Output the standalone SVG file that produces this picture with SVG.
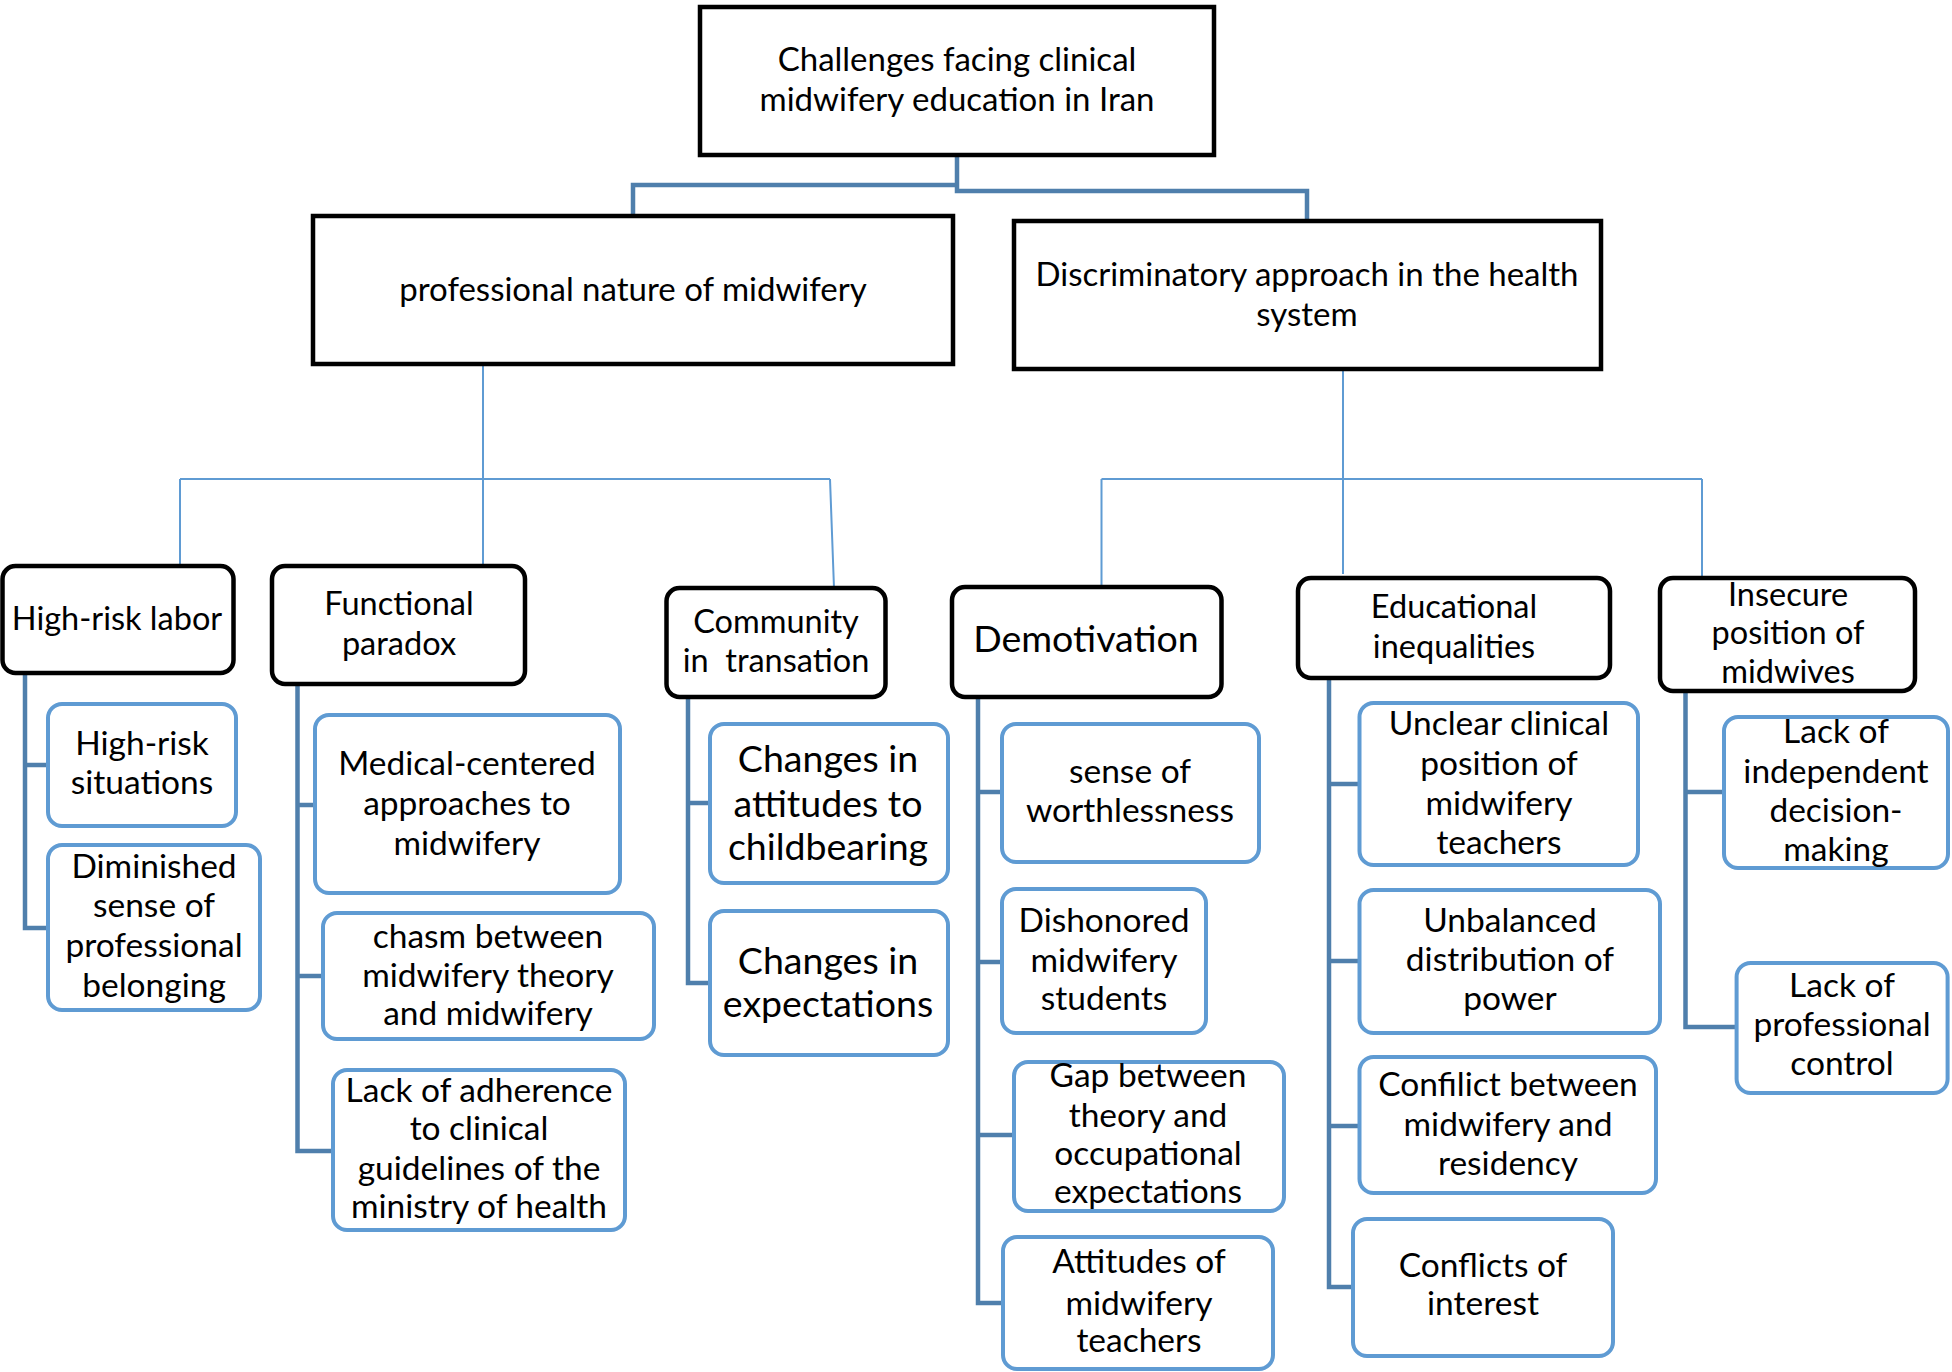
<svg xmlns="http://www.w3.org/2000/svg" width="1952" height="1372" viewBox="0 0 1952 1372">
<style>
text{font-family:Lato,"Noto Sans",sans-serif;fill:#000;text-anchor:middle;dominant-baseline:central}
.main{fill:#fff;stroke:#000;stroke-width:4.5}
.cat{fill:#fff;stroke:#000;stroke-width:4.5}
.sub{fill:#fff;stroke:#5f9bd3;stroke-width:4}
.thick{fill:none;stroke:#4f7fac;stroke-width:4.5}
.thin{fill:none;stroke:#5f9bd3;stroke-width:2}
.f30{font-size:33px}.c3{font-size:32.5px}.f33{font-size:33.5px}.f35{font-size:33.5px}.f39{font-size:37.5px}
</style>
<g id="connectors">
<path class="thick" d="M957,155V185H633V216M957,185V191H1307V221"/>
<path class="thin" d="M483,364V566M180,479H830M180,479V566M830,479L834,588M1343,369V574M1101.5,479H1702M1101.5,479V587M1702,479V578"/>
<path class="thick" d="M25,673V928H48M25,765H48"/>
<path class="thick" d="M297.5,684V1151H333M297.5,805H315M297.5,976H323"/>
<path class="thick" d="M688,697V983H710M688,803H710"/>
<path class="thick" d="M978,697V1303H1003M978,792H1002M978,962H1002M978,1135H1014"/>
<path class="thick" d="M1329,678V1287H1353M1329,784H1359.5M1329,961H1359.5M1329,1126H1359.5"/>
<path class="thick" d="M1685.5,691V1027H1736.6M1685.5,792H1724"/>
</g>
<g id="n0"><rect class="main" x="700" y="7" width="514" height="148"/><text class="f30" x="957" y="58">Challenges facing clinical</text><text class="f30" x="957" y="98">midwifery education in Iran</text></g>
<g id="n1"><rect class="main" x="313" y="216" width="640" height="148"/><text class="f30" x="633" y="288">professional nature of midwifery</text></g>
<g id="n2"><rect class="main" x="1014" y="221" width="587" height="148"/><text class="f30" x="1307" y="273">Discriminatory approach in the health</text><text class="f30" x="1307" y="313">system</text></g>
<g id="n3"><rect class="cat" x="2.5" y="566" width="231" height="107" rx="13"/><text class="c3" x="117" y="617">High-risk labor</text></g>
<g id="n4"><rect class="cat" x="272" y="566" width="253" height="118" rx="13"/><text class="c3" x="399" y="602">Functional</text><text class="c3" x="399" y="642">paradox</text></g>
<g id="n5"><rect class="cat" x="666.5" y="588" width="219" height="109" rx="13"/><text class="c3" x="776" y="620">Community</text><text class="c3" x="776" y="659" xml:space="preserve">in  transation</text></g>
<g id="n6"><rect class="cat" x="952" y="587" width="269.5" height="110" rx="13"/><text class="f39" x="1086" y="637">Demotivation</text></g>
<g id="n7"><rect class="cat" x="1298" y="578" width="312" height="100" rx="13"/><text class="c3" x="1454" y="605">Educational</text><text class="c3" x="1454" y="645">inequalities</text></g>
<g id="n8"><rect class="cat" x="1660" y="578" width="255" height="113" rx="13"/><text class="c3" x="1788" y="593">Insecure</text><text class="c3" x="1788" y="631">position of</text><text class="c3" x="1788" y="670">midwives</text></g>
<g id="n9"><rect class="sub" x="48" y="704" width="188" height="122" rx="14"/><text class="f33" x="142" y="742">High-risk</text><text class="f33" x="142" y="781">situations</text></g>
<g id="n10"><rect class="sub" x="48" y="845" width="212" height="165" rx="14"/><text class="f33" x="154" y="865">Diminished</text><text class="f33" x="154" y="904">sense of</text><text class="f33" x="154" y="944">professional</text><text class="f33" x="154" y="984">belonging</text></g>
<g id="n11"><rect class="sub" x="315" y="715" width="305" height="178" rx="14"/><text class="f33" x="467" y="762">Medical-centered</text><text class="f33" x="467" y="802">approaches to</text><text class="f33" x="467" y="842">midwifery</text></g>
<g id="n12"><rect class="sub" x="323" y="913" width="331" height="126" rx="14"/><text class="f33" x="488" y="935">chasm between</text><text class="f33" x="488" y="974">midwifery theory</text><text class="f33" x="488" y="1012">and midwifery</text></g>
<g id="n13"><rect class="sub" x="333" y="1070" width="292" height="160" rx="14"/><text class="f33" x="479" y="1089">Lack of adherence</text><text class="f33" x="479" y="1127">to clinical</text><text class="f33" x="479" y="1167">guidelines of the</text><text class="f33" x="479" y="1205">ministry of health</text></g>
<g id="n14"><rect class="sub" x="710" y="724" width="238" height="159" rx="14"/><text class="f39" x="828" y="757">Changes in</text><text class="f39" x="828" y="802">attitudes to</text><text class="f39" x="828" y="845">childbearing</text></g>
<g id="n15"><rect class="sub" x="710" y="911" width="238" height="144" rx="14"/><text class="f39" x="828" y="959">Changes in</text><text class="f39" x="828" y="1002">expectations</text></g>
<g id="n16"><rect class="sub" x="1002" y="724" width="257" height="138" rx="14"/><text class="f35" x="1130" y="770">sense of</text><text class="f35" x="1130" y="809">worthlessness</text></g>
<g id="n17"><rect class="sub" x="1002" y="889" width="204" height="144" rx="14"/><text class="f33" x="1104" y="919">Dishonored</text><text class="f33" x="1104" y="959">midwifery</text><text class="f33" x="1104" y="997">students</text></g>
<g id="n18"><rect class="sub" x="1014" y="1062" width="270" height="149" rx="14"/><text class="f33" x="1148" y="1074">Gap between</text><text class="f33" x="1148" y="1114">theory and</text><text class="f33" x="1148" y="1152">occupational</text><text class="f33" x="1148" y="1190">expectations</text></g>
<g id="n19"><rect class="sub" x="1003" y="1237" width="270" height="132" rx="14"/><text class="f33" x="1139" y="1260">Attitudes of</text><text class="f33" x="1139" y="1302">midwifery</text><text class="f33" x="1139" y="1339">teachers</text></g>
<g id="n20"><rect class="sub" x="1359.5" y="703" width="278.5" height="162" rx="14"/><text class="f33" x="1499" y="722">Unclear clinical</text><text class="f33" x="1499" y="762">position of</text><text class="f33" x="1499" y="802">midwifery</text><text class="f33" x="1499" y="841">teachers</text></g>
<g id="n21"><rect class="sub" x="1359.5" y="890" width="300.5" height="143" rx="14"/><text class="f33" x="1510" y="919">Unbalanced</text><text class="f33" x="1510" y="958">distribution of</text><text class="f33" x="1510" y="997">power</text></g>
<g id="n22"><rect class="sub" x="1359.5" y="1057" width="296.5" height="136" rx="14"/><text class="f33" x="1508" y="1083">Confilict between</text><text class="f33" x="1508" y="1123">midwifery and</text><text class="f33" x="1508" y="1162">residency</text></g>
<g id="n23"><rect class="sub" x="1353" y="1219" width="260" height="137" rx="14"/><text class="f33" x="1483" y="1264">Conflicts of</text><text class="f33" x="1483" y="1302">interest</text></g>
<g id="n24"><rect class="sub" x="1724" y="717" width="224" height="151" rx="14"/><text class="f33" x="1836" y="730">Lack of</text><text class="f33" x="1836" y="770">independent</text><text class="f33" x="1836" y="809">decision-</text><text class="f33" x="1836" y="848">making</text></g>
<g id="n25"><rect class="sub" x="1736.6" y="963" width="211" height="130" rx="14"/><text class="f33" x="1842" y="984">Lack of</text><text class="f33" x="1842" y="1023">professional</text><text class="f33" x="1842" y="1062">control</text></g>
</svg>
